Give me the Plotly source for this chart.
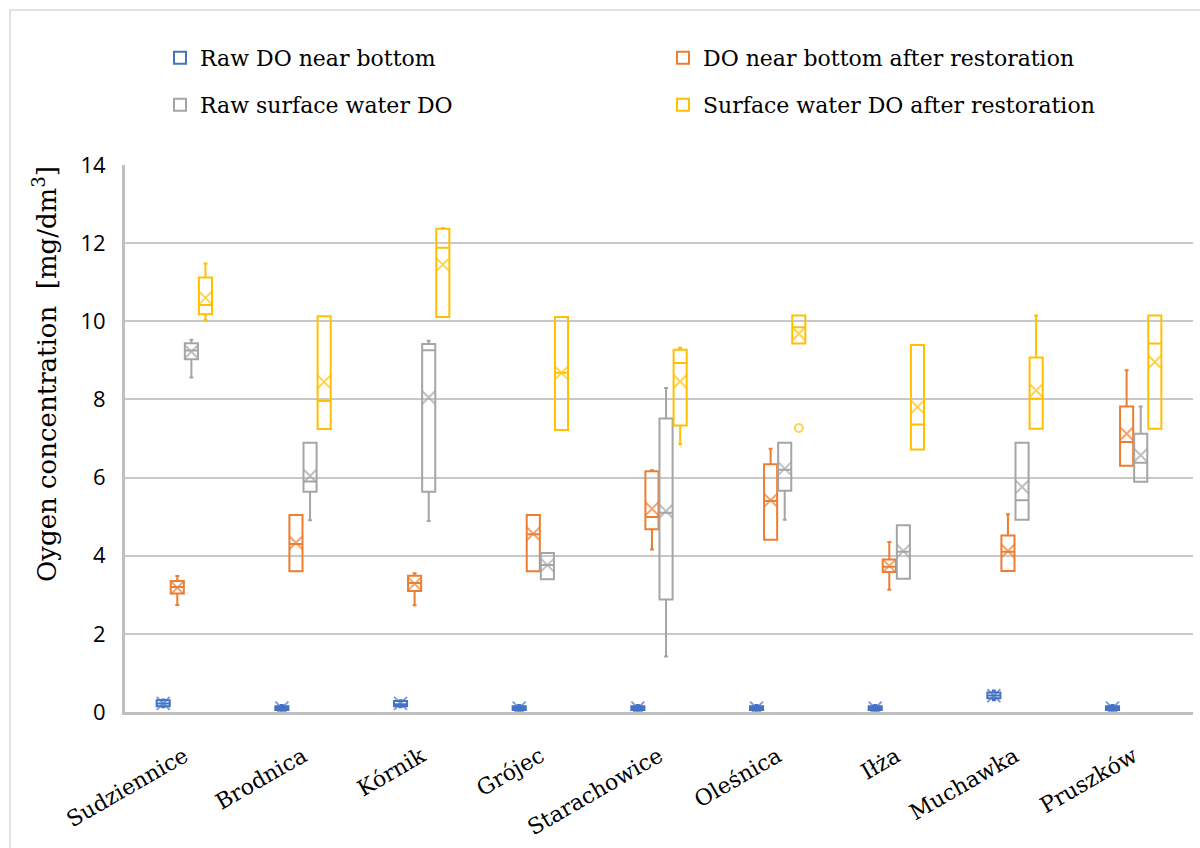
import plotly.graph_objects as go

categories = ["Sudziennice", "Brodnica", "Kórnik", "Grójec", "Starachowice",
              "Oleśnica", "Iłża", "Muchawka", "Pruszków"]

# Raw DO near bottom
raw_bottom_min = [0.12, 0.03, 0.12, 0.03, 0.03, 0.03, 0.03, 0.30, 0.03]
raw_bottom_q1 = [0.15, 0.05, 0.15, 0.05, 0.05, 0.05, 0.05, 0.35, 0.05]
raw_bottom_med = [0.22, 0.10, 0.20, 0.10, 0.10, 0.10, 0.10, 0.42, 0.10]
raw_bottom_q3 = [0.30, 0.15, 0.28, 0.15, 0.15, 0.15, 0.15, 0.50, 0.15]
raw_bottom_max = [0.32, 0.18, 0.30, 0.18, 0.18, 0.18, 0.18, 0.55, 0.18]
raw_bottom_mean = [0.22, 0.10, 0.22, 0.10, 0.10, 0.10, 0.10, 0.42, 0.10]

# DO near bottom after restoration
rest_bottom_min = [2.74, 3.60, 2.73, 3.60, 4.16, 4.41, 3.13, 3.61, 6.30]
rest_bottom_q1 = [3.03, 3.60, 3.10, 3.60, 4.68, 4.41, 3.58, 3.61, 6.30]
rest_bottom_med = [3.20, 4.30, 3.30, 4.55, 4.99, 5.40, 3.72, 4.10, 6.91]
rest_bottom_q3 = [3.35, 5.04, 3.49, 5.04, 6.16, 6.34, 3.90, 4.52, 7.82]
rest_bottom_max = [3.48, 5.04, 3.55, 5.04, 6.19, 6.74, 4.35, 5.06, 8.75]
rest_bottom_mean = [3.18, 4.33, 3.28, 4.56, 5.20, 5.42, 3.74, 4.12, 7.12]

# Raw surface water DO
raw_surf_min = [8.56, 4.91, 4.89, 3.40, 1.42, 4.92, 3.41, 4.92, 5.89]
raw_surf_q1 = [9.03, 5.64, 5.64, 3.40, 2.88, 5.66, 3.41, 4.92, 5.89]
raw_surf_med = [9.25, 5.90, 9.26, 3.76, 5.10, 6.20, 4.10, 5.42, 6.38]
raw_surf_q3 = [9.44, 6.89, 9.42, 4.07, 7.51, 6.89, 4.78, 6.89, 7.12]
raw_surf_max = [9.53, 6.89, 9.50, 4.07, 8.29, 6.89, 4.78, 6.89, 7.82]
raw_surf_mean = [9.22, 6.04, 8.05, 3.76, 5.14, 6.23, 4.12, 5.76, 6.57]

# Surface water DO after restoration
rest_surf_min = [10.03, 7.24, 10.11, 7.22, 6.85, 9.43, 6.72, 7.25, 7.25]
rest_surf_q1 = [10.18, 7.24, 10.11, 7.22, 7.33, 9.43, 6.72, 7.25, 7.25]
rest_surf_med = [10.42, 7.96, 11.88, 8.68, 8.93, 9.85, 7.36, 8.02, 9.43]
rest_surf_q3 = [11.12, 10.13, 12.37, 10.11, 9.27, 10.15, 9.39, 9.07, 10.15]
rest_surf_max = [11.48, 10.13, 12.39, 10.11, 9.32, 10.15, 9.39, 10.15, 10.15]
rest_surf_mean = [10.60, 8.45, 11.45, 8.68, 8.46, 9.68, 7.81, 8.23, 8.96]

# outliers (surface water after restoration)
outlier_cats = ["Oleśnica"]
outlier_vals = [7.27]

y_title = "Oygen concentration  [mg/dm<sup>3</sup>]"

series = [
    ("Raw DO near bottom", "#4472C4", raw_bottom_min, raw_bottom_q1, raw_bottom_med,
     raw_bottom_q3, raw_bottom_max, raw_bottom_mean, "legend"),
    ("DO near bottom after restoration", "#ED7D31", rest_bottom_min, rest_bottom_q1,
     rest_bottom_med, rest_bottom_q3, rest_bottom_max, rest_bottom_mean, "legend"),
    ("Raw surface water DO", "#A5A5A5", raw_surf_min, raw_surf_q1, raw_surf_med,
     raw_surf_q3, raw_surf_max, raw_surf_mean, "legend2"),
    ("Surface water DO after restoration", "#FFC000", rest_surf_min, rest_surf_q1,
     rest_surf_med, rest_surf_q3, rest_surf_max, rest_surf_mean, "legend2"),
]

GAP = 0.525
fig = go.Figure()
for i, (name, color, lo, q1, med, q3, hi, mean, leg) in enumerate(series):
    fig.add_trace(go.Box(
        name=name, x=categories, q1=q1, median=med, q3=q3,
        lowerfence=lo, upperfence=hi,
        fillcolor="rgba(255,255,255,0)", line=dict(color=color, width=2),
        whiskerwidth=0.3, boxpoints=False, offsetgroup=str(i),
        legend=leg, showlegend=True, hoverinfo="skip",
    ))

for i, (name, color, lo, q1, med, q3, hi, mean, leg) in enumerate(series):
    xs = list(categories)
    ys = list(mean)
    syms = ["x-thin-open"] * len(xs)
    sizes = [13] * len(xs)
    if i == 3:
        xs += outlier_cats
        ys += outlier_vals
        syms += ["circle-open"] * len(outlier_cats)
        sizes += [8] * len(outlier_cats)
    fig.add_trace(go.Scatter(
        x=xs, y=ys, mode="markers", offsetgroup=str(i), showlegend=False,
        marker=dict(symbol=syms, size=sizes, color=color,
                    line=dict(color=color, width=2)),
        cliponaxis=False, hoverinfo="skip",
    ))

serif = "DejaVu Serif"
legend_common = dict(orientation="h", xref="container", yref="container",
                     x=160 / 1200, xanchor="left", yanchor="middle",
                     entrywidth=458, entrywidthmode="pixels",
                     font=dict(family=serif, size=22), bgcolor="rgba(0,0,0,0)")
fig.update_layout(
    width=1200, height=848,
    paper_bgcolor="white", plot_bgcolor="white",
    margin=dict(l=125, r=7, t=165, b=136),
    boxmode="group", boxgap=GAP, boxgroupgap=0.07,
    scattermode="group", scattergap=GAP,
    font=dict(family=serif, color="black"),
    legend=dict(legend_common, y=1 - 58 / 848),
    legend2=dict(legend_common, y=1 - 105 / 848),
    shapes=[dict(type="rect", xref="paper", yref="paper",
                 x0=(10 - 125) / 1068, x1=1.2, y0=-0.6, y1=(712 - 10) / 547,
                 line=dict(color="#D9D9D9", width=1.5), layer="below")],
    annotations=[dict(text=y_title, textangle=-90, xref="paper", yref="paper",
                      x=(45 - 125) / 1068, y=(712 - 374) / 547,
                      xanchor="center", yanchor="middle", showarrow=False,
                      font=dict(family=serif, size=26, color="black"))],
)
fig.update_yaxes(
    range=[0, 14], dtick=2, showgrid=True, gridcolor="#C8C8C8", gridwidth=2,
    showline=True, linecolor="#BFBFBF", linewidth=3, zeroline=False,
    tickfont=dict(family="Open Sans", size=22, color="black"),
    ticklabelstandoff=12,
)
fig.update_xaxes(
    type="category", categoryorder="array", categoryarray=categories,
    showline=True, linecolor="#BFBFBF", linewidth=3, showgrid=False,
    tickangle=-30, tickfont=dict(family=serif, size=22, color="black"),
    ticklabelstandoff=20,
)

fig.write_html("out.html", config={"displayModeBar": False},
               post_script="document.body.style.margin='0';")
